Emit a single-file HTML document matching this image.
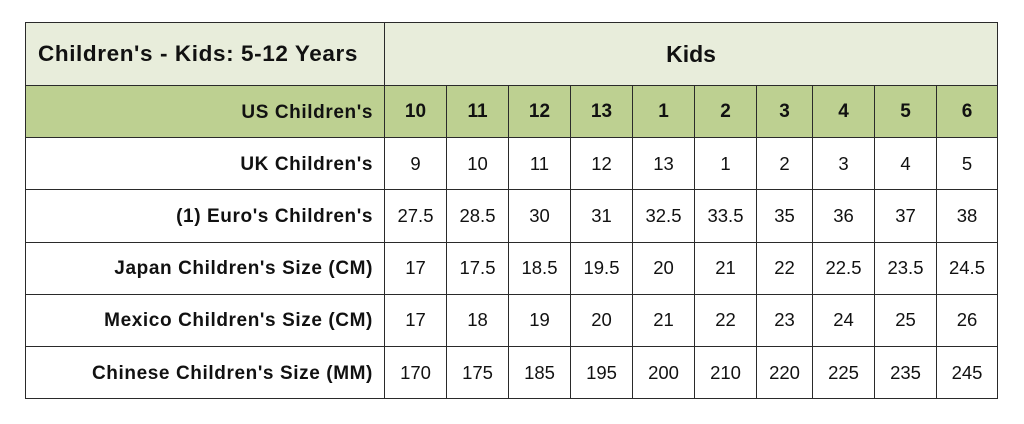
<!DOCTYPE html>
<html><head><style>
body{margin:0;background:#fff;width:1024px;height:424px;overflow:hidden;font-family:"Liberation Sans",Arial,sans-serif;}
table{position:absolute;left:25px;top:22px;border-collapse:collapse;table-layout:fixed;}
td{border:1px solid #2a2a2a;padding:0;text-align:center;vertical-align:middle;font-size:18.5px;color:#111;height:51.2px;}
tr.h td{background:#e8eddb;height:62px;font-weight:bold;font-size:23px;}
tr.g td{background:#bdd091;font-weight:bold;font-size:19px;}
td.l{text-align:right;padding-right:11px;font-weight:bold;font-size:19px;letter-spacing:0.6px;white-space:nowrap;}
td.l span{position:relative;top:1px;}
tr.h td.l{text-align:left;padding-left:12px;font-size:22.5px;letter-spacing:0.6px;}
</style></head><body>
<table>
<colgroup><col style="width:359px"><col style="width:62px"><col style="width:62px"><col style="width:62px"><col style="width:62px"><col style="width:62px"><col style="width:62px"><col style="width:56px"><col style="width:62px"><col style="width:62px"><col style="width:61px"></colgroup>
<tr class="h"><td class="l">Children's - Kids: 5-12 Years</td><td colspan="10">Kids</td></tr>
<tr class="g"><td class="l"><span>US Children's</span></td><td>10</td><td>11</td><td>12</td><td>13</td><td>1</td><td>2</td><td>3</td><td>4</td><td>5</td><td>6</td></tr>
<tr><td class="l"><span>UK Children's</span></td><td>9</td><td>10</td><td>11</td><td>12</td><td>13</td><td>1</td><td>2</td><td>3</td><td>4</td><td>5</td></tr>
<tr><td class="l"><span>(1) Euro's Children's</span></td><td>27.5</td><td>28.5</td><td>30</td><td>31</td><td>32.5</td><td>33.5</td><td>35</td><td>36</td><td>37</td><td>38</td></tr>
<tr><td class="l"><span>Japan Children's Size (CM)</span></td><td>17</td><td>17.5</td><td>18.5</td><td>19.5</td><td>20</td><td>21</td><td>22</td><td>22.5</td><td>23.5</td><td>24.5</td></tr>
<tr><td class="l"><span>Mexico Children's Size (CM)</span></td><td>17</td><td>18</td><td>19</td><td>20</td><td>21</td><td>22</td><td>23</td><td>24</td><td>25</td><td>26</td></tr>
<tr><td class="l"><span>Chinese Children's Size (MM)</span></td><td>170</td><td>175</td><td>185</td><td>195</td><td>200</td><td>210</td><td>220</td><td>225</td><td>235</td><td>245</td></tr>
</table>
</body></html>
